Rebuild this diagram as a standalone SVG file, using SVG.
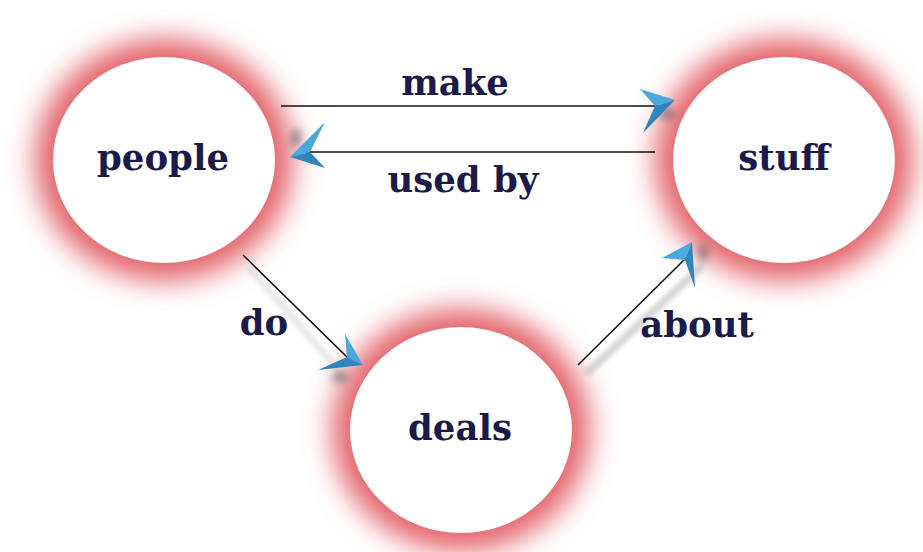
<svg xmlns="http://www.w3.org/2000/svg" width="923" height="552" viewBox="0 0 923 552">
  <style>
    .halo { fill: #e3646a; filter: url(#soft); }
    .face { fill: #ffffff; }
    .name { font-family: "DejaVu Serif", "Liberation Serif", serif; font-weight: bold; font-size: 35.5px; fill: #1b1a4b; text-anchor: middle; }
    .edge { stroke: #111111; stroke-width: 1.6; fill: none; }
    .trail { stroke: #c4c4c4; stroke-width: 8; fill: none; filter: url(#blur2); stroke-linecap: round; }
    .smudge { fill: #4a4a52; opacity: 0.55; filter: url(#blur3); }
    .headLight { fill: #4aa8dc; }
    .headDark { fill: #2f86bd; }
  </style>
  <defs>
    <filter id="soft" x="-40%" y="-40%" width="180%" height="180%">
      <feGaussianBlur stdDeviation="14"/>
    </filter>
    <filter id="blur2" x="-20%" y="-200%" width="140%" height="500%">
      <feGaussianBlur stdDeviation="2.2"/>
    </filter>
    <filter id="blur3" x="-150%" y="-150%" width="400%" height="400%">
      <feGaussianBlur stdDeviation="4"/>
    </filter>
  </defs>

  <rect width="923" height="552" fill="#ffffff"/>

  <!-- nodes -->
  <g id="node-people">
    <ellipse class="halo" cx="164" cy="160" rx="129" ry="121"/>
    <ellipse class="face" cx="164" cy="160" rx="111" ry="103"/>
    <text class="name" x="163" y="170">people</text>
  </g>
  <g id="node-stuff">
    <ellipse class="halo" cx="784" cy="160" rx="129" ry="121"/>
    <ellipse class="face" cx="784" cy="160" rx="111" ry="103"/>
    <text class="name" x="784" y="170">stuff</text>
  </g>
  <g id="node-deals">
    <ellipse class="halo" cx="461" cy="430" rx="129" ry="121"/>
    <ellipse class="face" cx="461" cy="430" rx="111" ry="103"/>
    <text class="name" x="460" y="440">deals</text>
  </g>

  <!-- connectors -->
  <g id="connectors">
    <!-- cast shadows -->
    <line class="trail" x1="292" y1="117" x2="676" y2="117"/>
    <line class="trail" x1="300" y1="163" x2="672" y2="163"/>
    <line class="trail" x1="588" y1="372" x2="700" y2="268" opacity="0.7"/>
    <line class="trail" x1="250" y1="268" x2="340" y2="372" opacity="0.35"/>
    <ellipse class="smudge" cx="667" cy="114" rx="9" ry="5"/>
    <ellipse class="smudge" cx="296" cy="138" rx="5" ry="10"/>
    <ellipse class="smudge" cx="340" cy="377" rx="9" ry="5"/>
    <ellipse class="smudge" cx="703" cy="253" rx="5" ry="9"/>

    <!-- people -> stuff : make -->
    <line class="edge" x1="281" y1="106" x2="660" y2="106"/>
    <path class="headLight" d="M675,100 L640,89 L655,106 Z"/>
    <path class="headDark" d="M675,100 L655,106 L643,133 Z"/>

    <!-- stuff -> people : used by -->
    <line class="edge" x1="655" y1="152" x2="306" y2="152"/>
    <path class="headLight" d="M290,157 L325,122 L310,152 Z"/>
    <path class="headDark" d="M290,157 L310,152 L325,168 Z"/>

    <!-- people -> deals : do -->
    <line class="edge" x1="243" y1="255" x2="348" y2="358"/>
    <path class="headLight" d="M363,365 L345,334 L347,357 Z"/>
    <path class="headDark" d="M363,365 L347,357 L318,370 Z"/>

    <!-- deals -> stuff : about -->
    <line class="edge" x1="578" y1="365" x2="686" y2="258"/>
    <path class="headLight" d="M692,242 L662,258 L685,260 Z"/>
    <path class="headDark" d="M692,242 L685,260 L695,288 Z"/>

    <!-- labels -->
    <text class="name" x="455" y="95">make</text>
    <text class="name" x="463" y="192">used by</text>
    <text class="name" x="264" y="335">do</text>
    <text class="name" x="697" y="337">about</text>
  </g>
</svg>
